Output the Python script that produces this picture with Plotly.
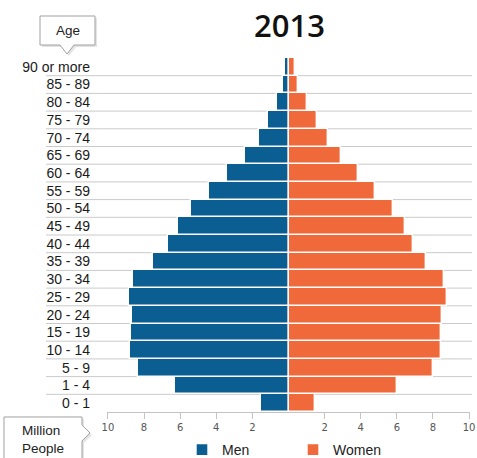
import plotly.graph_objects as go

# ---- data (bottom to top) ----
age_groups = ["0 - 1", "1 - 4", "5 - 9", "10 - 14", "15 - 19", "20 - 24", "25 - 29",
              "30 - 34", "35 - 39", "40 - 44", "45 - 49", "50 - 54", "55 - 59",
              "60 - 64", "65 - 69", "70 - 74", "75 - 79", "80 - 84", "85 - 89", "90 or more"]
men = [1.52, 6.28, 8.36, 8.76, 8.72, 8.69, 8.84, 8.63, 7.53, 6.67, 6.13, 5.42, 4.41,
       3.39, 2.39, 1.65, 1.14, 0.64, 0.33, 0.18]
women = [1.47, 6.01, 7.99, 8.45, 8.47, 8.50, 8.76, 8.63, 7.62, 6.89, 6.43, 5.79, 4.81,
         3.84, 2.90, 2.17, 1.60, 1.01, 0.55, 0.37]
x_ticks = [-10, -8, -6, -4, -2, 2, 4, 6, 8, 10]
x_tick_labels = [str(abs(v)) for v in x_ticks]
title_text = "2013"

BLUE = "#0B5E91"
ORANGE = "#F0693A"

W, H = 477, 458
L, R, T, B = 107, 470, 58, 412


def px(x):
    return (x - L) / (R - L)


def py(y):
    return (B - y) / (B - T)


ypos = list(range(len(age_groups)))

fig = go.Figure()
fig.add_trace(go.Bar(
    y=ypos, x=[-v for v in men], orientation="h", name="Men",
    marker=dict(color=BLUE, line=dict(color="white", width=1.4)),
    customdata=men, hovertemplate="%{customdata}<extra>Men</extra>",
))
fig.add_trace(go.Bar(
    y=ypos, x=women, orientation="h", name="Women",
    marker=dict(color=ORANGE, line=dict(color="white", width=1.4)),
    hovertemplate="%{x}<extra>Women</extra>",
))

shapes = []
# horizontal row separators extending under the labels
for i in range(len(age_groups) - 1):
    shapes.append(dict(type="line", xref="paper", yref="y",
                       x0=px(46), x1=px(472), y0=i + 0.5, y1=i + 0.5,
                       line=dict(color="#CACACA", width=1), layer="below"))


def path(points):
    s = "M" + " L".join(f"{px(x):.5f},{py(y):.5f}" for x, y in points) + " Z"
    return s


age_box = [(40, 16), (95, 16), (95, 45), (74, 45), (67, 54), (60, 45), (40, 45)]
mp_box = [(4, 417), (82, 417), (82, 425), (90, 433), (82, 441), (82, 475), (4, 475)]
for pts in (age_box, mp_box):
    shadow = [(x + 2, y + 2) for x, y in pts]
    shapes.append(dict(type="path", xref="paper", yref="paper", path=path(shadow),
                       fillcolor="#E4E4E4", line=dict(width=0), layer="above"))
    shapes.append(dict(type="path", xref="paper", yref="paper", path=path(pts),
                       fillcolor="white", line=dict(color="#A0A0A0", width=1), layer="above"))

annotations = [
    dict(text=title_text, xref="paper", yref="paper", x=px(289), y=py(25),
         showarrow=False, xanchor="center", yanchor="middle",
         font=dict(family="Open Sans", size=31, color="#111111", weight=600)),
    dict(text="Age", xref="paper", yref="paper", x=px(67.5), y=py(31),
         showarrow=False, xanchor="center", yanchor="middle",
         font=dict(family="Liberation Sans", size=13.5, color="#222222")),
    dict(text="Million<br>People", xref="paper", yref="paper", x=px(20), y=py(439),
         showarrow=False, xanchor="left", yanchor="middle", align="left",
         font=dict(family="Liberation Sans", size=13.5, color="#222222")),
]

fig.update_layout(
    width=W, height=H,
    margin=dict(l=L, r=W - R, t=T, b=H - B, autoexpand=False),
    paper_bgcolor="white", plot_bgcolor="white",
    barmode="relative", bargap=0,
    showlegend=True,
    legend=dict(orientation="h", xref="paper", yref="paper",
                x=px(182), y=py(434), xanchor="left", yanchor="top",
                font=dict(family="Liberation Sans", size=14, color="#222222"),
                entrywidth=66, entrywidthmode="pixels",
                bgcolor="rgba(0,0,0,0)", traceorder="normal"),
    xaxis=dict(range=[-10.05, 10.05], tickvals=x_ticks, ticktext=x_tick_labels,
               showgrid=False, zeroline=False, showline=True, linecolor="#C4C4C4",
               ticks="outside", ticklen=6, tickcolor="#C4C4C4",
               ticklabeloverflow="allow",
               tickfont=dict(family="DejaVu Sans", size=10, color="#555555"),
               fixedrange=True),
    yaxis=dict(range=[-0.5, len(age_groups) - 0.5], tickvals=ypos, ticktext=age_groups,
               showgrid=False, zeroline=False, showline=False, ticks="",
               ticklabelstandoff=16,
               tickfont=dict(family="Liberation Sans", size=14, color="#1A1A1A"),
               fixedrange=True),
    shapes=shapes,
    annotations=annotations,
)

fig.write_html("out.html")
